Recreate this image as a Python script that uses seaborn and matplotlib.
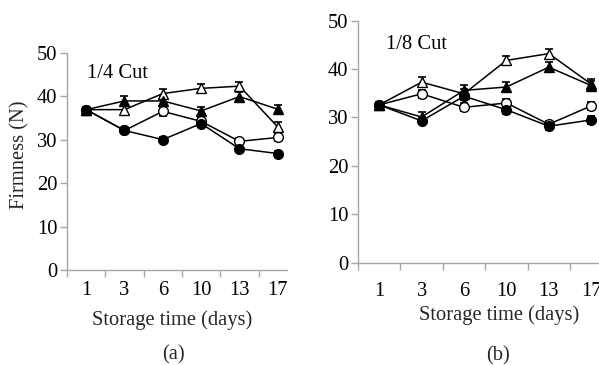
import matplotlib
matplotlib.use("Agg")
import matplotlib.pyplot as plt
import seaborn as sns
import pandas as pd
from matplotlib.ticker import FixedLocator

sns.set_theme(style="white")
plt.rcParams['font.family'] = ['Liberation Serif', 'DejaVu Serif']

days = ["1", "3", "6", "10", "13", "17"]

# Panel (a) 1/4 Cut
a_open_tri = [36.9, 36.9, 40.6, 41.8, 42.3, 32.9]
a_fill_tri = [36.9, 38.9, 38.9, 36.6, 39.9, 37.0]
a_open_cir = [36.9, 32.1, 36.5, 34.2, 29.6, 30.5]
a_fill_cir = [36.9, 32.1, 30.0, 33.7, 27.9, 26.8]
a_err_open_tri = [0.6, 1.0, 1.1, 1.0, 1.0, 1.2]
a_err_fill_tri = [0.6, 1.2, 1.1, 1.0, 1.0, 1.0]
a_err_open_cir = [0.5, 0.6, 1.0, 0.8, 0.8, 0.9]
a_err_fill_cir = [0.5, 0.6, 0.6, 0.8, 0.7, 0.6]

# Panel (b) 1/8 Cut
b_open_tri = [32.6, 37.3, 34.9, 41.8, 43.2, 36.9]
b_fill_tri = [32.6, 30.1, 35.6, 36.3, 40.4, 36.6]
b_open_cir = [32.6, 34.9, 32.1, 33.0, 28.6, 32.4]
b_fill_cir = [32.6, 29.3, 34.4, 31.6, 28.2, 29.5]
b_err_open_tri = [0.6, 1.0, 1.0, 1.0, 1.0, 1.0]
b_err_fill_tri = [0.6, 1.0, 1.2, 1.0, 1.0, 1.0]
b_err_open_cir = [0.5, 0.8, 0.8, 0.9, 0.7, 0.9]
b_err_fill_cir = [0.5, 0.7, 0.8, 0.8, 0.8, 0.8]

styles = [
    ("open_tri", "^", "white"),
    ("fill_tri", "^", "black"),
    ("open_cir", "o", "white"),
    ("fill_cir", "o", "black"),
]

GRAY = "#a6a6a6"
FS = 14.8

fig = plt.figure(figsize=(5.99, 3.65), dpi=100)
W, H = 599, 365

def make_axes(left_px, right_px, bottom_px, top_px):
    return fig.add_axes([left_px / W, 1 - bottom_px / H,
                         (right_px - left_px) / W, (bottom_px - top_px) / H])

ax_a = make_axes(67, 287, 270, 52.7)
ax_b = make_axes(358, 358 + 42.4 * 6, 262.7, 20.7)

def draw(ax, series, errs, xlim_right, label_pad, text_xy, text):
    for (name, mk, fc), vals, err in zip(styles, series, errs):
        df = pd.DataFrame({"day": days, "firm": vals})
        ax.errorbar(days, vals, yerr=err, fmt="none", ecolor="black",
                    elinewidth=1.0, capsize=3, capthick=1.2, zorder=2)
        sns.lineplot(data=df, x="day", y="firm", ax=ax, sort=False,
                     color="black", linewidth=1.1, marker=mk, markersize=7,
                     markerfacecolor=fc, markeredgecolor="black",
                     markeredgewidth=1.0, zorder=3)
    ax.set_ylim(0, 50)
    ax.set_xlim(-0.5, xlim_right)
    ax.set_yticks([0, 10, 20, 30, 40, 50])
    ax.set_xticks(range(len(days)))
    ax.set_xticklabels(days)
    ax.xaxis.set_minor_locator(FixedLocator([i - 0.5 for i in range(len(days))]))
    for s in ["top", "right"]:
        ax.spines[s].set_visible(False)
    for s in ["left", "bottom"]:
        ax.spines[s].set_color(GRAY)
        ax.spines[s].set_linewidth(1.0)
    ax.tick_params(axis="y", which="major", left=True, length=5, width=1,
                   color=GRAY, labelsize=FS, pad=2, labelcolor="black")
    ax.tick_params(axis="x", which="major", bottom=True, length=0,
                   labelsize=FS, pad=label_pad, labelcolor="black")
    ax.tick_params(axis="x", which="minor", bottom=True, length=5, width=1,
                   color=GRAY)
    ax.set_xlabel("")
    ax.set_ylabel("")
    ax.grid(False)
    ax.text(text_xy[0], text_xy[1], text, fontsize=FS, color="black",
            ha="left", va="center", transform=ax.transData)

draw(ax_a, [a_open_tri, a_fill_tri, a_open_cir, a_fill_cir],
     [a_err_open_tri, a_err_fill_tri, a_err_open_cir, a_err_fill_cir],
     5.24, 8, (0.03, 45.3), "1/4 Cut")
draw(ax_b, [b_open_tri, b_fill_tri, b_open_cir, b_fill_cir],
     [b_err_open_tri, b_err_fill_tri, b_err_open_cir, b_err_fill_cir],
     5.5, 14, (0.16, 45.0), "1/8 Cut")

fig.text(20 / W, 1 - 155 / H, "Firmness (N)", rotation=90, fontsize=FS,
         ha="center", va="center")
fig.text(172 / W, 1 - 320 / H, "Storage time (days)", fontsize=FS,
         ha="center", va="center")
fig.text(499 / W, 1 - 315 / H, "Storage time (days)", fontsize=FS,
         ha="center", va="center")
fig.text(173 / W, 1 - 355 / H, "(a)", fontsize=FS, ha="center", va="center")
fig.text(498 / W, 1 - 356 / H, "(b)", fontsize=FS, ha="center", va="center")

fig.savefig("out.png", dpi=100)
